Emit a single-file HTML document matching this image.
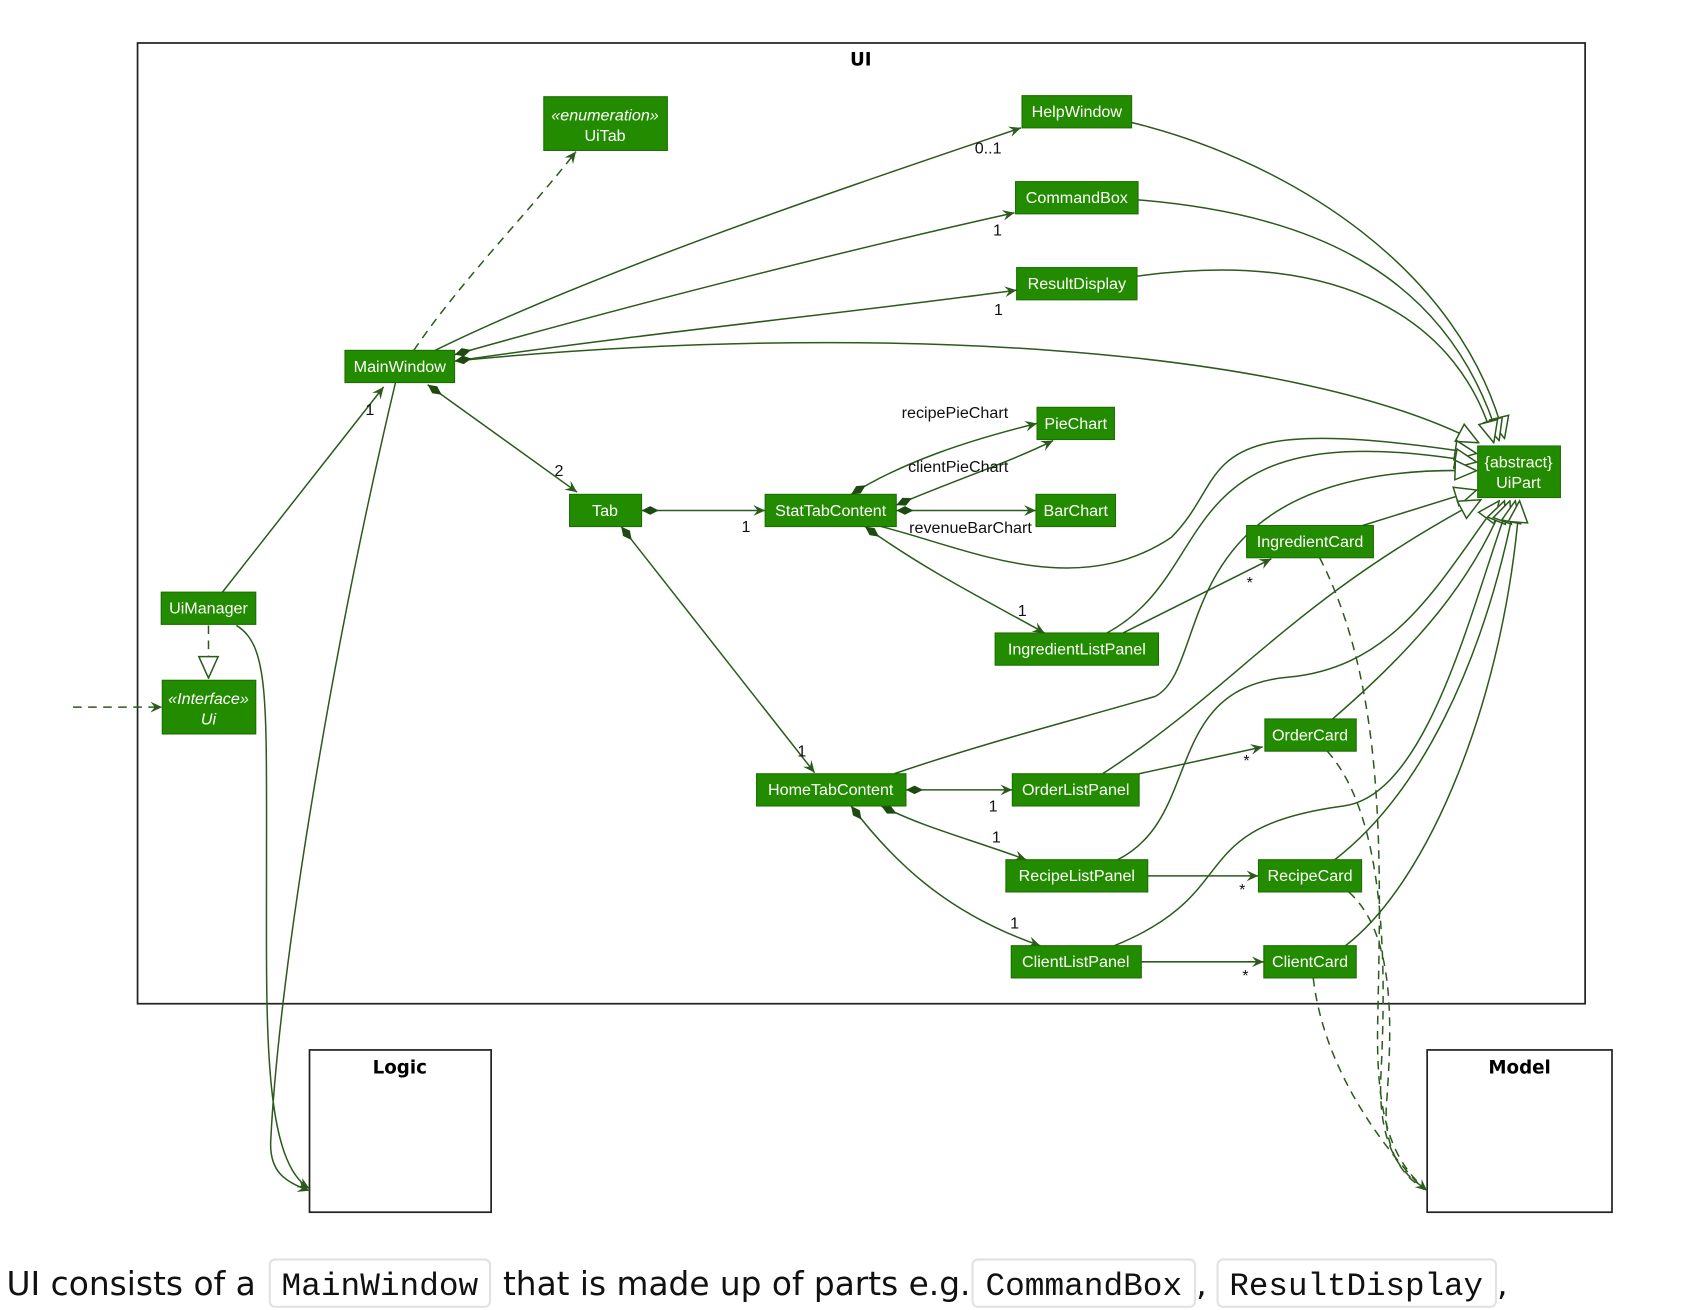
<!DOCTYPE html>
<html><head><meta charset="utf-8"><style>
html,body{margin:0;padding:0;background:#fff;}
svg{display:block;}
.n{fill:#228b00;stroke:#1b6e00;stroke-width:1}
.t{fill:#fff;font-family:"Liberation Sans",sans-serif;font-size:15px;text-anchor:middle}
.e{fill:none;stroke:#2b5a1c;stroke-width:1.4}
.d{fill:none;stroke:#2b5a1c;stroke-width:1.4;stroke-dasharray:8,6}
.l{fill:#111;font-family:"Liberation Sans",sans-serif;font-size:15px}
.b{fill:#000;font-family:"DejaVu Sans",sans-serif;font-size:17px;font-weight:bold;text-anchor:middle}
.m{font-family:"Liberation Mono","DejaVu Sans Mono",monospace;font-size:30px;fill:#111}
.p{font-family:"DejaVu Sans","Liberation Sans",sans-serif;font-size:31px;fill:#111}
</style></head><body>
<svg width="1684" height="1310" viewBox="0 0 1567 1219" preserveAspectRatio="none" xmlns="http://www.w3.org/2000/svg">
<defs>
<marker id="a" viewBox="0 0 12 12" refX="11" refY="6" markerWidth="12" markerHeight="12" orient="auto" markerUnits="userSpaceOnUse"><path d="M0,1 L11,6 L0,11 L4,6 Z" fill="#2b5a1c"/></marker>
<marker id="g" viewBox="0 0 22 22" refX="21" refY="11" markerWidth="22" markerHeight="22" orient="auto" markerUnits="userSpaceOnUse"><path d="M1,2 L21,11 L1,20 Z" fill="#fff" stroke="#2b5a1c" stroke-width="1.4"/></marker>
<marker id="dm" viewBox="0 0 20 10" refX="1" refY="5" markerWidth="20" markerHeight="10" orient="auto" markerUnits="userSpaceOnUse"><path d="M1,5 L9,1 L17,5 L9,9 Z" fill="#1d4a10"/></marker>
</defs>
<rect x="128" y="40" width="1347" height="894" fill="none" stroke="#222" stroke-width="1.6"/>
<text class="b" x="801" y="61" font-size="16">UI</text>
<rect x="288" y="977" width="169" height="151" fill="none" stroke="#222" stroke-width="1.6"/>
<text class="b" x="372" y="999">Logic</text>
<rect x="1328" y="977" width="172" height="151" fill="none" stroke="#222" stroke-width="1.6"/>
<text class="b" x="1414" y="999">Model</text>

<path class="e" marker-end="url(#g)" d="M1053,114 C1200,150 1360,250 1400,408"/>
<path class="e" marker-end="url(#g)" d="M1059,186 C1230,200 1350,260 1395,410"/>
<path class="e" marker-end="url(#g)" d="M1058,257 C1250,230 1360,300 1390,412"/>
<path class="e" marker-end="url(#g)" d="M433,335 C800,300 1200,320 1376,412"/>
<path class="e" marker-end="url(#g)" d="M820,490 C900,510 1000,560 1090,500 C1150,440 1100,380 1374,422"/>
<path class="e" marker-end="url(#g)" d="M1030,589 C1140,530 1080,380 1374,430"/>
<path class="e" marker-end="url(#g)" d="M832,720 C920,690 1000,670 1075,648 C1130,620 1080,430 1374,438"/>
<path class="e" marker-end="url(#g)" d="M1268,489 L1374,456"/>
<path class="e" marker-end="url(#g)" d="M1026,720 C1150,640 1200,560 1378,465"/>
<path class="e" marker-end="url(#g)" d="M1040,800 C1120,760 1080,640 1200,630 C1300,620 1340,540 1395,466"/>
<path class="e" marker-end="url(#g)" d="M1240,669 C1320,600 1370,540 1400,466"/>
<path class="e" marker-end="url(#g)" d="M1037,880 C1160,830 1100,770 1250,750 C1330,740 1370,560 1405,466"/>
<path class="e" marker-end="url(#g)" d="M1242,800 C1320,740 1380,620 1410,466"/>
<path class="e" marker-end="url(#g)" d="M1252,880 C1330,820 1400,650 1414,466"/>

<path class="d" marker-end="url(#a)" d="M385,326 C430,260 490,200 536,141"/>
<path class="e" marker-end="url(#a)" d="M405,326 C560,250 800,170 950,119"/>
<path class="e" marker-start="url(#dm)" marker-end="url(#a)" d="M423,330 C600,280 800,230 944,198"/>
<path class="e" marker-start="url(#dm)" marker-end="url(#a)" d="M423,336 C600,310 800,290 946,270"/>
<path class="e" marker-start="url(#dm)" marker-end="url(#a)" d="M398,358 L537,458"/>
<path class="e" marker-end="url(#a)" d="M207,551 L357,360"/>
<path class="e" marker-end="url(#a)" d="M368,356 C310,600 260,900 252,1060 C250,1090 265,1100 288,1108"/>
<path class="e" marker-end="url(#a)" d="M220,582 C250,600 248,650 248,800 C248,950 244,1080 288,1106"/>
<path class="d" marker-end="url(#a)" d="M68,658 L151,658"/>
<path class="d" marker-end="url(#g)" d="M194,582 L194,631"/>

<path class="e" marker-start="url(#dm)" marker-end="url(#a)" d="M597,475 L712,475"/>
<path class="e" marker-start="url(#dm)" marker-end="url(#a)" d="M578,490 L758,719"/>
<path class="e" marker-start="url(#dm)" marker-end="url(#a)" d="M792,460 C840,430 900,410 965,394"/>
<path class="e" marker-start="url(#dm)" marker-end="url(#a)" d="M834,470 C880,450 940,430 980,410"/>
<path class="e" marker-start="url(#dm)" marker-end="url(#a)" d="M834,475 L964,475"/>
<path class="e" marker-start="url(#dm)" marker-end="url(#a)" d="M805,490 C860,530 920,560 972,589"/>
<path class="e" marker-end="url(#a)" d="M1045,589 L1183,520"/>

<path class="e" marker-start="url(#dm)" marker-end="url(#a)" d="M843,735 L942,735"/>
<path class="e" marker-start="url(#dm)" marker-end="url(#a)" d="M820,750 C860,770 900,780 955,800"/>
<path class="e" marker-start="url(#dm)" marker-end="url(#a)" d="M792,750 C830,800 880,850 968,880"/>
<path class="e" marker-end="url(#a)" d="M1060,720 L1175,695"/>
<path class="e" marker-end="url(#a)" d="M1068,815 L1171,815"/>
<path class="e" marker-end="url(#a)" d="M1062,895 L1176,895"/>

<path class="d" marker-end="url(#a)" d="M1228,519 C1290,640 1285,800 1282,950 C1280,1040 1295,1080 1328,1108"/>
<path class="d" d="M1235,699 C1290,760 1290,900 1285,1000 C1282,1060 1300,1090 1325,1105"/>
<path class="d" d="M1255,830 C1300,870 1295,960 1290,1030 C1288,1070 1305,1095 1325,1106"/>
<path class="d" d="M1222,910 C1230,980 1270,1050 1325,1107"/>

<text class="l" x="907" y="143">0..1</text>
<text class="l" x="924" y="219">1</text>
<text class="l" x="925" y="293">1</text>
<text class="l" x="340" y="386">1</text>
<text class="l" x="516" y="443">2</text>
<text class="l" x="690" y="495">1</text>
<text class="l" x="839" y="389">recipePieChart</text>
<text class="l" x="845" y="439">clientPieChart</text>
<text class="l" x="846" y="496">revenueBarChart</text>
<text class="l" x="947" y="573">1</text>
<text class="l" x="1160" y="547">*</text>
<text class="l" x="742" y="704">1</text>
<text class="l" x="920" y="755">1</text>
<text class="l" x="923" y="784">1</text>
<text class="l" x="940" y="864">1</text>
<text class="l" x="1157" y="713">*</text>
<text class="l" x="1153" y="833">*</text>
<text class="l" x="1156" y="913">*</text>

<rect class="n" x="506" y="90" width="115" height="50"/><text class="t" x="563" y="112" font-style="italic" font-size="14">«enumeration»</text><text class="t" x="563" y="131">UiTab</text>
<rect class="n" x="951" y="89" width="102" height="30"/><text class="t" x="1002" y="109">HelpWindow</text>
<rect class="n" x="945" y="169" width="114" height="30"/><text class="t" x="1002" y="189">CommandBox</text>
<rect class="n" x="946" y="249" width="112" height="30"/><text class="t" x="1002" y="269">ResultDisplay</text>
<rect class="n" x="321" y="326" width="102" height="30"/><text class="t" x="372" y="346">MainWindow</text>
<rect class="n" x="965" y="379" width="72" height="30"/><text class="t" x="1001" y="399">PieChart</text>
<rect class="n" x="712" y="460" width="122" height="30"/><text class="t" x="773" y="480">StatTabContent</text>
<rect class="n" x="530" y="460" width="67" height="30"/><text class="t" x="563" y="480">Tab</text>
<rect class="n" x="964" y="460" width="74" height="30"/><text class="t" x="1001" y="480">BarChart</text>
<rect class="n" x="1375" y="415" width="77" height="48"/><text class="t" x="1413" y="435">{abstract}</text><text class="t" x="1413" y="454">UiPart</text>
<rect class="n" x="1160" y="489" width="118" height="30"/><text class="t" x="1219" y="509">IngredientCard</text>
<rect class="n" x="150" y="551" width="88" height="30"/><text class="t" x="194" y="571">UiManager</text>
<rect class="n" x="151" y="633" width="87" height="50"/><text class="t" x="194" y="655" font-style="italic">«Interface»</text><text class="t" x="194" y="674" font-style="italic">Ui</text>
<rect class="n" x="926" y="589" width="152" height="30"/><text class="t" x="1002" y="609">IngredientListPanel</text>
<rect class="n" x="1177" y="669" width="85" height="30"/><text class="t" x="1219" y="689">OrderCard</text>
<rect class="n" x="704" y="720" width="139" height="30"/><text class="t" x="773" y="740">HomeTabContent</text>
<rect class="n" x="942" y="720" width="118" height="30"/><text class="t" x="1001" y="740">OrderListPanel</text>
<rect class="n" x="936" y="800" width="132" height="30"/><text class="t" x="1002" y="820">RecipeListPanel</text>
<rect class="n" x="1171" y="800" width="96" height="30"/><text class="t" x="1219" y="820">RecipeCard</text>
<rect class="n" x="941" y="880" width="121" height="30"/><text class="t" x="1001" y="900">ClientListPanel</text>
<rect class="n" x="1176" y="880" width="86" height="30"/><text class="t" x="1219" y="900">ClientCard</text>

<rect x="251" y="1172" width="205" height="44" rx="5" fill="#fff" stroke="#e2e2e2" stroke-width="2"/>
<rect x="905" y="1172" width="207" height="44" rx="5" fill="#fff" stroke="#e2e2e2" stroke-width="2"/>
<rect x="1133" y="1172" width="259" height="44" rx="5" fill="#fff" stroke="#e2e2e2" stroke-width="2"/>
<text class="p" x="6" y="1205" textLength="232" lengthAdjust="spacingAndGlyphs">UI consists of a</text>
<text class="m" x="262" y="1205" textLength="183" lengthAdjust="spacingAndGlyphs">MainWindow</text>
<text class="p" x="468" y="1205" textLength="435" lengthAdjust="spacingAndGlyphs">that is made up of parts e.g.</text>
<text class="m" x="917" y="1205" textLength="183" lengthAdjust="spacingAndGlyphs">CommandBox</text>
<text class="p" x="1113" y="1205">,</text>
<text class="m" x="1144" y="1205" textLength="236" lengthAdjust="spacingAndGlyphs">ResultDisplay</text>
<text class="p" x="1393" y="1205">,</text>
</svg>
</body></html>
